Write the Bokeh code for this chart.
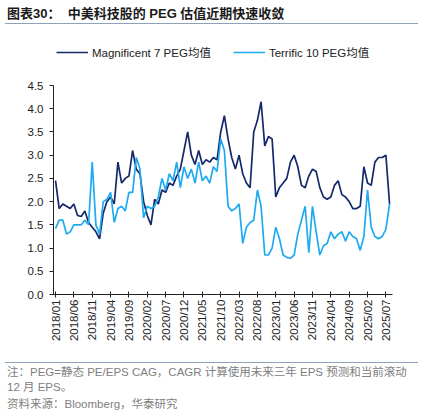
from bokeh.plotting import figure
from bokeh.layouts import column
from bokeh.models import Range1d, FixedTicker, Legend, LegendItem, PrintfTickFormatter, Div
from bokeh.embed import file_html
from bokeh.resources import INLINE
import pandas as pd
import math

# texts
title_text = "图表30：&nbsp;&nbsp;中美科技股的 PEG 估值近期快速收敛"
note_lines = ["注：PEG=静态 PE/EPS CAG，CAGR 计算使用未来三年 EPS 预测和当前滚动",
              "12 月 EPS。",
              "资料来源：Bloomberg，华泰研究"]
series_names = ["Magnificent 7 PEG均值", "Terrific 10 PEG均值"]

# monthly points, 2018/01 - 2025/08
months = pd.period_range("2018-01", "2025-08", freq="M").strftime("%Y/%m").tolist()

mag7 = [2.45, 1.85, 1.95, 1.9, 1.85, 1.95, 1.7, 1.68, 1.8, 1.55,
        1.45, 1.35, 1.2, 1.75, 2.0, 2.1, 1.95, 2.85, 2.4, 2.5,
        2.55, 3.1, 2.7, 2.6, 2.0, 1.7, 1.5, 2.05, 1.95, 2.25,
        2.2, 2.4, 2.35, 2.55, 2.7, 3.1, 3.5, 3.0, 2.8, 3.1,
        2.8, 2.9, 2.85, 2.95, 2.9, 3.5, 3.85, 3.35, 2.95, 2.7,
        3.0, 2.6, 2.4, 2.3, 3.5, 3.75, 4.15, 3.2, 3.4, 3.35,
        2.1, 2.3, 2.4, 2.5, 2.85, 3.0, 2.75, 2.35, 2.3, 2.55,
        2.7, 2.65, 2.3, 2.1, 2.05, 2.1, 2.35, 2.45, 2.15, 2.1,
        2.0, 1.85, 1.85, 1.9, 2.75, 2.4, 2.35, 2.85, 2.95, 2.95,
        3.0, 1.95]

ter10 = [1.42, 1.6, 1.6, 1.3, 1.35, 1.5, 1.5, 1.5, 1.6, 1.5,
         2.85, 1.5, 1.3, 2.0, 2.05, 2.2, 1.55, 1.85, 1.9, 1.8,
         2.2, 2.2, 2.95, 2.7, 1.65, 1.9, 1.85, 1.9, 2.1, 2.5,
         2.25, 2.6, 2.45, 2.85, 2.3, 2.75, 2.5, 2.7, 2.4, 2.85,
         2.45, 2.55, 2.4, 2.75, 2.65, 3.35, 3.1, 1.9, 1.8, 1.85,
         1.95, 1.1, 1.45, 1.55, 1.6, 2.25, 1.9, 0.85, 0.85, 1.0,
         1.45, 1.2, 0.85, 0.8, 0.78, 0.85, 1.3, 1.6, 1.9, 0.9,
         1.9, 1.35, 0.85, 1.05, 1.1, 1.35, 1.2, 1.3, 1.35, 1.15,
         1.35, 1.25, 1.2, 0.95, 1.25, 2.25, 1.45, 1.25, 1.2, 1.25,
         1.4, 1.95]

y_ticks = [0.0, 0.5, 1.0, 1.5, 2.0, 2.5, 3.0, 3.5, 4.0, 4.5]
tick_pos = list(range(0, len(months), 5))
tick_labels = [months[i] for i in tick_pos]

dark = "#14286b"
light = "#1eaaf0"
rule = "#8ea2b9"
font = "Liberation Sans, Noto Sans CJK SC"

x = list(range(len(months)))

# header: title and rule
head = Div(width=428, height=30, margin=0, text=(
    '<div style="position:relative;width:428px;height:30px">'
    f'<div style="position:absolute;left:7px;top:7px;font:bold 13px {font};line-height:14px;'
    f'color:#1a1a1a;white-space:nowrap">{title_text}</div>'
    f'<div style="position:absolute;left:5px;top:23px;width:413px;height:0;'
    f'border-top:1px solid {rule}"></div></div>'))

# main chart; frame runs up into the legend band, axis line stops at 4.5
p = figure(width=428, height=325, x_range=Range1d(-0.55, 91.8),
           y_range=Range1d(0, 4.5 * 254 / 209),
           min_border_left=53, min_border_right=36, min_border_top=10, min_border_bottom=61,
           output_backend="svg", toolbar_location=None)
p.outline_line_color = None
p.grid.visible = False

r1 = p.line(x, mag7, line_color=dark, line_width=1.7)
r2 = p.line(x, ter10, line_color=light, line_width=1.7)

p.yaxis.ticker = FixedTicker(ticks=y_ticks)
p.yaxis.bounds = (0, 4.5)
p.yaxis.formatter = PrintfTickFormatter(format="%.1f")
p.yaxis.major_tick_in = 0
p.yaxis.major_tick_out = 4
p.yaxis.minor_tick_line_color = None
p.yaxis.major_label_standoff = 6

p.xaxis.ticker = FixedTicker(ticks=tick_pos)
p.xaxis.major_label_overrides = dict(zip(tick_pos, tick_labels))
p.xaxis.major_label_orientation = math.pi / 2
p.xaxis.major_tick_in = 3
p.xaxis.major_tick_out = 3
p.xaxis.minor_tick_line_color = None
p.xaxis.major_label_standoff = 2

for ax in p.axis:
    ax.axis_line_color = "#222222"
    ax.major_tick_line_color = "#222222"
    ax.major_label_text_font = font
    ax.major_label_text_font_size = "11.5px"
    ax.major_label_text_color = "#222222"

legend = Legend(items=[LegendItem(label=series_names[0], renderers=[r1]),
                       LegendItem(label=series_names[1], renderers=[r2])],
                orientation="horizontal", location=(3, 234), padding=0, margin=0,
                spacing=22, glyph_width=32, glyph_height=12, label_standoff=4,
                label_text_font=font, label_text_font_size="11.5px",
                label_text_color="#222222", border_line_color=None,
                background_fill_alpha=0)
p.add_layout(legend, "center")

# footer: rule, note and source
rows = "".join(
    f'<div style="position:absolute;left:7px;top:{t}px;line-height:14px;white-space:nowrap">{s}</div>'
    for t, s in zip([10, 25, 42], note_lines))
foot = Div(width=428, height=62, margin=0, text=(
    f'<div style="position:relative;width:428px;height:62px;font:11.5px {font};color:#808080">'
    f'<div style="position:absolute;left:5px;top:7px;width:413px;height:0;'
    f'border-top:1px solid {rule}"></div>{rows}</div>'))

layout = column(head, p, foot, spacing=0)
open("out.html", "w").write(file_html(layout, INLINE))
